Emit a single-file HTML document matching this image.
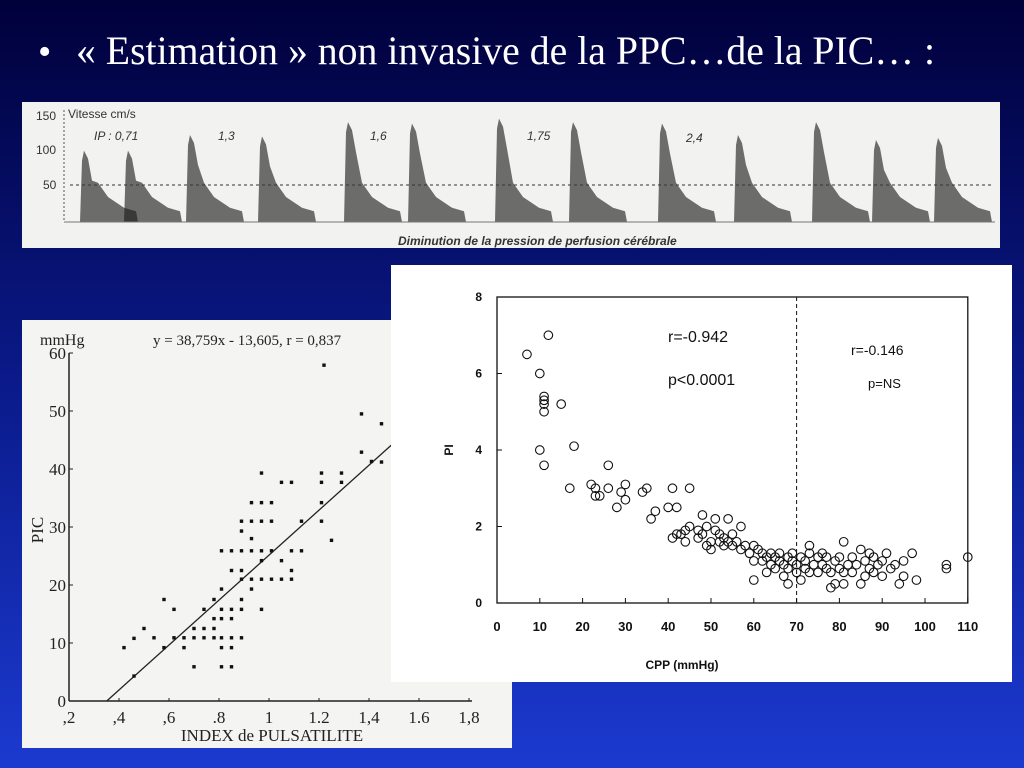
<!DOCTYPE html>
<html><head><meta charset="utf-8"><style>
html,body{margin:0;padding:0;width:1024px;height:768px;overflow:hidden}
svg{display:block}
</style></head><body>
<svg width="1024" height="768" xmlns="http://www.w3.org/2000/svg">
<defs>
<linearGradient id="bg" x1="0" y1="0" x2="0" y2="1">
<stop offset="0" stop-color="#00003a"/><stop offset="0.5" stop-color="#0a1a8a"/><stop offset="1" stop-color="#1c3ad0"/>
</linearGradient>
</defs>
<rect width="1024" height="768" fill="url(#bg)"/>
<text x="38" y="64" fill="#fff" font-family="Liberation Serif, serif" font-size="38">•</text>
<text x="76" y="64" fill="#fff" font-family="Liberation Serif, serif" font-size="40" textLength="859" lengthAdjust="spacingAndGlyphs">« Estimation » non invasive de la PPC…de la PIC… :</text>

<g>
<rect x="22" y="102" width="978" height="146" fill="#f2f2f0"/>
<g id="dop"></g>
<line x1="70" y1="185" x2="992" y2="185" stroke="#333" stroke-dasharray="3,3" stroke-width="1"/>
<line x1="64" y1="110" x2="64" y2="222" stroke="#555" stroke-dasharray="2,2"/>
<line x1="64" y1="222" x2="995" y2="222" stroke="#777"/>
<g font-family="Liberation Sans, sans-serif" font-size="12" fill="#333">
<text x="36" y="120">150</text><text x="36" y="154">100</text><text x="43" y="189">50</text>
<text x="68" y="118">Vitesse cm/s</text>
<g font-style="italic"><text x="94" y="140">IP : 0,71</text><text x="218" y="140">1,3</text><text x="370" y="140">1,6</text><text x="527" y="140">1,75</text><text x="686" y="142">2,4</text></g>
<text x="398" y="245" font-weight="bold" font-style="italic" font-size="12">Diminution de la pression de perfusion cérébrale</text>
</g>
</g>

<g>
<rect x="22" y="320" width="490" height="428" fill="#f4f4f2"/>
<g id="leftc"></g>
</g>

<g>
<rect x="391" y="265" width="621" height="417" fill="#fff"/>
<g id="rightc"></g>
</g>
</svg>
<script>
// Doppler beats
const beatX=[84,128,190,262,348,412,499,573,662,738,816,876,938];
const beatPeakV=[100,100,122,120,140,138,145,140,138,122,140,115,118];
// Left chart data
const leftX=[.42,.46,.46,.50,.54,.58,.58,.62,.62,.66,.66,.70,.70,.70,.74,.74,.74,.78,.78,.78,.78,.81,.81,.81,.81,.81,.81,.81,.85,.85,.85,.85,.85,.85,.85,.89,.89,.89,.89,.89,.89,.89,.89,.93,.93,.93,.93,.93,.93,.97,.97,.97,.97,.97,.97,.97,1.01,1.01,1.01,1.01,1.05,1.05,1.05,1.09,1.09,1.09,1.09,1.13,1.13,1.21,1.21,1.21,1.21,1.22,1.25,1.29,1.29,1.37,1.37,1.41,1.45,1.45];
const leftY=[9.2,10.8,4.3,12.5,10.9,17.5,9.2,15.8,10.9,10.9,9.2,12.5,5.9,10.9,15.8,12.5,10.9,17.5,14.2,12.5,10.9,25.9,19.3,15.8,14.2,10.9,9.2,5.9,25.9,22.5,15.8,14.2,10.9,9.2,5.9,31,29.3,25.9,22.5,21,17.5,15.8,10.9,34.2,31,28,25.9,21,19.3,39.3,34.2,31,25.9,24.2,21,15.8,34.2,31,25.9,21,24.2,21,37.7,37.7,25.9,22.5,21,31,25.9,39.3,37.7,34.2,31,57.9,27.7,39.3,37.7,49.5,42.9,41.3,47.8,41.2];
const leftYTicks=[0,10,20,30,40,50,60];
const leftXTicks=[0.2,0.4,0.6,0.8,1.0,1.2,1.4,1.6,1.8];
const leftXTickLabels=[",2",",4",",6",".8","1","1.2","1,4","1.6","1,8"];
const slope=38.759, intercept=-13.605;
// Right chart data
const rightCPP=[7,12,10,11,11,11,11,15,10,11,18,17,22,23,23,24,26,26,28,29,30,30,34,35,36,37,40,41,42,45,41,42,43,44,44,45,47,47,48,48,49,49,50,50,51,51,52,52,53,53,54,54,55,55,56,57,57,58,59,60,60,60,61,62,62,63,63,64,64,65,65,66,66,67,67,68,68,68,69,69,70,70,71,71,72,72,73,73,73,74,75,75,76,76,77,77,78,78,79,79,80,80,81,81,81,82,83,83,84,85,85,86,86,87,87,88,88,89,90,90,91,92,93,94,95,95,97,98,105,105,110];
const rightPI=[6.5,7,6,5.4,5.3,5.2,5,5.2,4,3.6,4.1,3,3.1,2.8,3,2.8,3,3.6,2.5,2.9,3.1,2.7,2.9,3,2.2,2.4,2.5,3,2.5,3,1.7,1.8,1.8,1.6,1.9,2,1.7,1.9,2.3,1.8,2,1.5,1.6,1.4,1.9,2.2,1.6,1.8,1.5,1.7,2.2,1.6,1.8,1.5,1.6,2,1.4,1.5,1.3,1.5,1.1,0.6,1.4,1.3,1.1,1.2,0.8,1.3,1,1.2,0.9,1.1,1.3,1,0.7,1.2,0.5,0.9,1.3,1.1,1,0.8,1.2,0.6,1.1,0.9,1.3,1.5,0.8,1,1.2,0.8,1,1.3,0.9,1.2,0.4,0.8,1.1,0.5,0.9,1.2,1.6,0.5,0.8,1,1.2,0.8,1,1.4,0.5,1.1,0.7,1.3,0.9,1.2,0.8,1,0.7,1.1,1.3,0.9,1,0.5,0.7,1.1,1.3,0.6,1,0.9,1.2];
const rightXTicks=[0,10,20,30,40,50,60,70,80,90,100,110];
const rightYTicks=[0,2,4,6,8];

const NS='http://www.w3.org/2000/svg';
function mk(tag,attrs,parent,txt){const e=document.createElementNS(NS,tag);for(const k in attrs)e.setAttribute(k,attrs[k]);if(txt!==undefined)e.textContent=txt;parent.appendChild(e);return e;}

// Doppler
const dop=document.getElementById('dop');
const vY=v=>222-(v/150)*107;
beatX.forEach((x,i)=>{
  const p=vY(beatPeakV[i]);
  const d=`M${x-4},222 L${x-2},${p+10} L${x},${p} L${x+4},${p+8} L${x+8},${p+30} L${x+14},${vY(55)} L${x+24},${vY(35)} L${x+40},${vY(20)} L${x+52},${vY(15)} L${x+54},222 Z`;
  const el=mk('path',{d:d,fill:'#1a1a1a','fill-opacity':'0.62'},dop);
  
  
});

// Left chart
const L=document.getElementById('leftc');
const lx=v=>69+(v-0.2)*250, ly=v=>701-v*5.8;
mk('line',{x1:lx(0.2),y1:ly(0),x2:lx(1.8)+3,y2:ly(0),stroke:'#222','stroke-width':1.5},L);
mk('line',{x1:lx(0.2),y1:ly(0),x2:lx(0.2),y2:ly(60),stroke:'#222','stroke-width':1.5},L);
leftYTicks.forEach(t=>{
  mk('line',{x1:lx(0.2),y1:ly(t),x2:lx(0.2)+4,y2:ly(t),stroke:'#222'},L);
  const e=mk('text',{x:lx(0.2)-3,y:ly(t)+6,'text-anchor':'end','font-family':'Liberation Serif, serif','font-size':'17',fill:'#222'},L,String(t));
  
  
});
leftXTicks.forEach((t,i)=>{
  mk('line',{x1:lx(t),y1:ly(0),x2:lx(t),y2:ly(0)-3,stroke:'#222'},L);
  const e=mk('text',{x:lx(t),y:ly(0)+22,'text-anchor':'middle','font-family':'Liberation Serif, serif','font-size':'17',fill:'#222'},L,leftXTickLabels[i]);
  
  
});
const x0=-intercept/slope, x1=1.5;
const rl=mk('line',{x1:lx(x0),y1:ly(0),x2:lx(x1),y2:ly(slope*x1+intercept),stroke:'#222','stroke-width':1.3},L);


leftX.forEach((x,i)=>{
  const c=mk('rect',{x:lx(x)-1.7,y:ly(leftY[i])-1.7,width:3.4,height:3.4,fill:'#111'},L);
  
  
});
mk('text',{x:40,y:345,'font-family':'Liberation Serif, serif','font-size':'16',fill:'#222'},L,'mmHg');
mk('text',{x:153,y:345,'font-family':'Liberation Serif, serif','font-size':'15',fill:'#222'},L,'y = 38,759x - 13,605, r = 0,837');
mk('text',{x:43,y:530,transform:'rotate(-90 43 530)','text-anchor':'middle','font-family':'Liberation Serif, serif','font-size':'17',fill:'#222'},L,'PIC');
mk('text',{x:272,y:741,'text-anchor':'middle','font-family':'Liberation Serif, serif','font-size':'17',fill:'#222'},L,'INDEX de PULSATILITE');

// Right chart
const R=document.getElementById('rightc');
const rx=v=>497+v*4.28, ry=v=>603-v*38.25;
mk('rect',{x:rx(0),y:ry(8),width:rx(110)-rx(0),height:ry(0)-ry(8),fill:'none',stroke:'#111','stroke-width':1.3},R);
const dl=mk('line',{x1:rx(70),y1:ry(8),x2:rx(70),y2:ry(0),stroke:'#111','stroke-dasharray':'4,3'},R);


rightXTicks.forEach(t=>{
  mk('line',{x1:rx(t),y1:ry(0),x2:rx(t),y2:ry(0)-5,stroke:'#111'},R);
  const e=mk('text',{x:rx(t),y:631,'text-anchor':'middle','font-family':'Liberation Sans, sans-serif','font-weight':'bold','font-size':'13',fill:'#111'},R,String(t));
  
  
});
rightYTicks.forEach(t=>{
  mk('line',{x1:rx(0),y1:ry(t),x2:rx(0)+5,y2:ry(t),stroke:'#111'},R);
  const e=mk('text',{x:482,y:ry(t)+4,'text-anchor':'end','font-family':'Liberation Sans, sans-serif','font-weight':'bold','font-size':'12',fill:'#111'},R,String(t));
  
  
});
rightCPP.forEach((x,i)=>{
  const c=mk('circle',{cx:rx(x),cy:ry(rightPI[i]),r:4.3,fill:'none',stroke:'#111','stroke-width':1.1},R);
  
  
});
const tf={'font-family':'Liberation Sans, sans-serif',fill:'#111'};
mk('text',Object.assign({x:668,y:342,'font-size':'16'},tf),R,'r=-0.942');
mk('text',Object.assign({x:668,y:385,'font-size':'16'},tf),R,'p<0.0001');
mk('text',Object.assign({x:851,y:355,'font-size':'14'},tf),R,'r=-0.146');
mk('text',Object.assign({x:868,y:388,'font-size':'13'},tf),R,'p=NS');
mk('text',Object.assign({x:453,y:450,'font-size':'12','font-weight':'bold','text-anchor':'middle',transform:'rotate(-90 453 450)'},tf),R,'PI');
mk('text',Object.assign({x:682,y:669,'font-size':'12','font-weight':'bold','text-anchor':'middle'},tf),R,'CPP  (mmHg)');
</script>
</body></html>
